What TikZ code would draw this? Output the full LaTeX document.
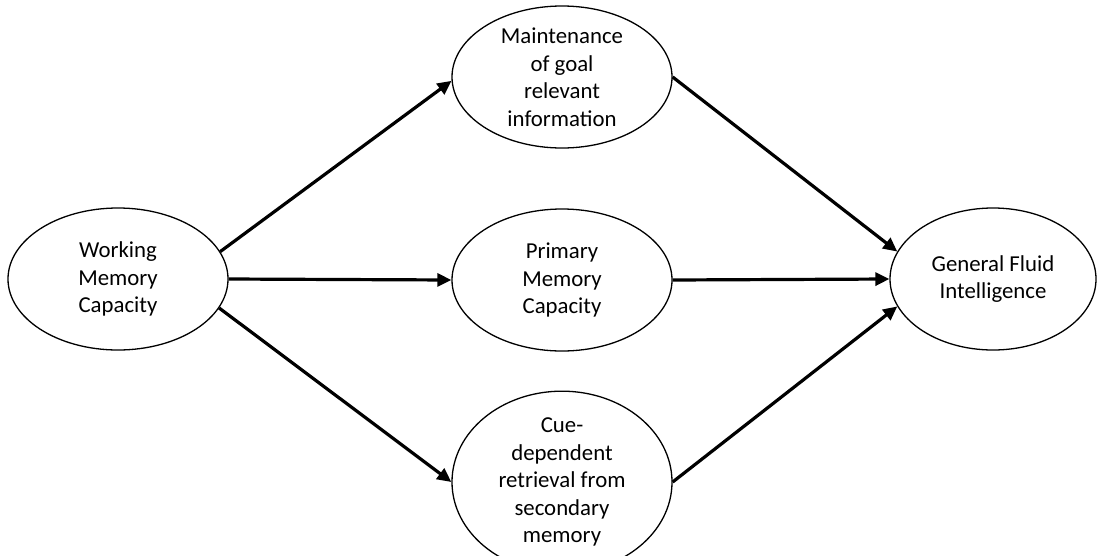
\documentclass[tikz,border=0pt]{standalone}
\usepackage{fontspec}
\setmainfont{Carlito}
\usetikzlibrary{shapes.geometric,arrows.meta}
\begin{document}
\begin{tikzpicture}[x=1pt,y=-1pt,
  latent/.style={ellipse,draw,line width=1.3pt,minimum width=220pt,
    minimum height=142pt,inner sep=0pt,align=center,
    font=\fontsize{22.8}{27.5}\selectfont},
  effect/.style={line width=3.2pt,-{Triangle[length=14pt,width=13pt]}}]
\useasboundingbox (0,0) rectangle (1097,555);
% constructs
\node[latent] (wmc) at (118,279) {Working\\Memory\\Capacity};
\node[latent] (goal) at (562,77) {Maintenance\\of goal\\relevant\\information};
\node[latent] (pmc) at (562,280) {Primary\\Memory\\Capacity};
\node[latent] (cue) at (562,482) {Cue-\\dependent\\retrieval from\\secondary\\memory};
\node[latent,minimum width=206pt] (gfi) at (993,279) {General Fluid\\Intelligence};
% paths
\draw[effect] (wmc.15) -- (goal.182);
\draw[effect] (wmc.east) -- (pmc.west);
\draw[effect] (wmc.-16) -- (cue.west);
\draw[effect] (goal.east) -- (gfi.164);
\draw[effect] (pmc.east) -- (gfi.west);
\draw[effect] (cue.east) -- (gfi.196);
\end{tikzpicture}
\end{document}
